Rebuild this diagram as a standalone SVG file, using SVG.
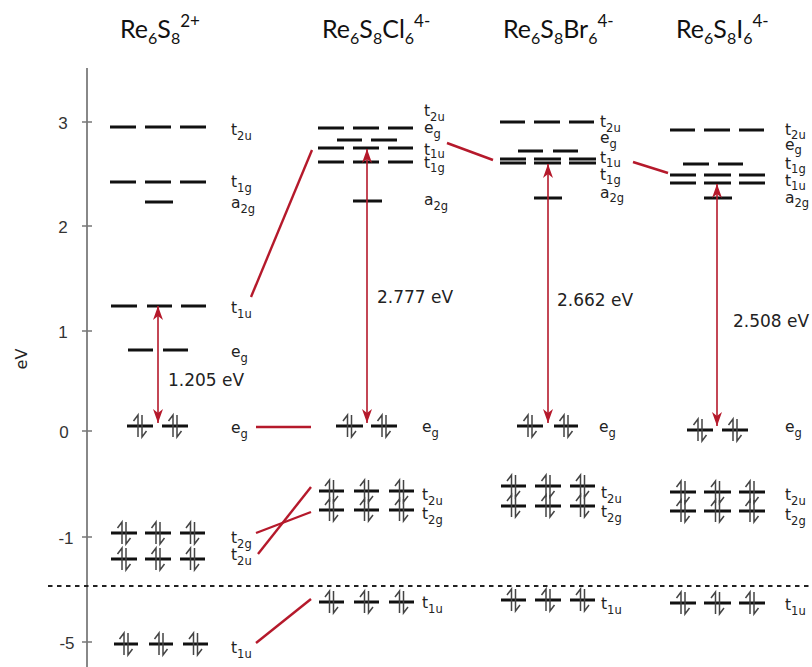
<svg xmlns="http://www.w3.org/2000/svg" xmlns:xlink="http://www.w3.org/1999/xlink" width="812" height="667" viewBox="0 0 812 667">
<style>
.lvl{stroke:#111;stroke-width:3;fill:none}
.el{stroke:#444;stroke-width:1.5;fill:none}
.lab{font-family:"DejaVu Sans",Verdana,sans-serif;font-size:15.5px;fill:#222}
.lab tspan{font-size:11.5px}
.en{font-family:"DejaVu Sans",Verdana,sans-serif;font-size:17px;fill:#222}
.ax{font-family:"Liberation Sans",Arial,sans-serif;font-size:17px;fill:#333;text-anchor:middle}
.ttl{font-family:Lato,"Open Sans",sans-serif;font-size:25px;fill:#111}
.red{stroke:#b5192b;stroke-width:2.4;fill:none}
.rarr{stroke:#b5192b;stroke-width:1.6;fill:none;marker-start:url(#ah);marker-end:url(#ah)}
</style>
<defs>
<marker id="ah" viewBox="0 0 14 10" refX="14" refY="5" markerWidth="14" markerHeight="10" orient="auto-start-reverse" markerUnits="userSpaceOnUse">
<path d="M0,0 L14,5 L0,10 L4,5 Z" fill="#b5192b"/>
</marker>
<path id="pr" class="el" d="M-2,11 V-11 L-6.5,-5 M2,-11 V11 L6.5,5"/>
</defs>

<g id="titles">
<text class="ttl" x="120" y="38">Re<tspan font-size="16" dy="6">6</tspan><tspan dy="-6">S</tspan><tspan font-size="16" dy="6">8</tspan><tspan font-size="17" dy="-17">2+</tspan></text>
<text class="ttl" x="322" y="38">Re<tspan font-size="16" dy="6">6</tspan><tspan dy="-6">S</tspan><tspan font-size="16" dy="6">8</tspan><tspan dy="-6">Cl</tspan><tspan font-size="16" dy="6">6</tspan><tspan font-size="17" dy="-17">4-</tspan></text>
<text class="ttl" x="503" y="38">Re<tspan font-size="16" dy="6">6</tspan><tspan dy="-6">S</tspan><tspan font-size="16" dy="6">8</tspan><tspan dy="-6">Br</tspan><tspan font-size="16" dy="6">6</tspan><tspan font-size="17" dy="-17">4-</tspan></text>
<text class="ttl" x="676" y="38">Re<tspan font-size="16" dy="6">6</tspan><tspan dy="-6">S</tspan><tspan font-size="16" dy="6">8</tspan><tspan dy="-6">I</tspan><tspan font-size="16" dy="6">6</tspan><tspan font-size="17" dy="-17">4-</tspan></text>
</g>

<g id="axis">
<line x1="87" y1="68" x2="87" y2="667" stroke="#888" stroke-width="2"/>
<path d="M82,122h10M82,226h10M82,331h10M82,431h10M82,537h10M82,642h10" stroke="#777" stroke-width="1.3"/>
<text class="ax" x="63" y="129">3</text>
<text class="ax" x="63" y="233">2</text>
<text class="ax" x="63" y="338">1</text>
<text class="ax" x="64" y="438">0</text>
<text class="ax" x="66" y="544">-1</text>
<text class="ax" x="67" y="649">-5</text>
<text transform="translate(27,359) rotate(-90)" font-family="DejaVu Sans,Verdana,sans-serif" font-size="16" fill="#222" text-anchor="middle">eV</text>
<line x1="48" y1="586" x2="812" y2="586" stroke="#222" stroke-width="2" stroke-dasharray="4.5,4.5"/>
</g>

<g id="col-Re6S8">
<path class="lvl" d="M110,127h26M145,127h26M180,127h26M110,182h26M145,182h26M180,182h26M145,202h28M111,306h26M147,306h25M181,306h25M128,350h25M163,350h25M127,426h26M162,426h26M111,533h26M145,533h26M180,533h25M111,559h26M145,559h26M180,559h25M114,644h24M149,644h24M183,644h25"/>
<use href="#pr" x="140" y="426"/><use href="#pr" x="175" y="426"/>
<use href="#pr" x="124" y="533"/><use href="#pr" x="158" y="533"/><use href="#pr" x="192.5" y="533"/>
<use href="#pr" x="124" y="559"/><use href="#pr" x="158" y="559"/><use href="#pr" x="192.5" y="559"/>
<use href="#pr" x="126" y="644"/><use href="#pr" x="161" y="644"/><use href="#pr" x="195.5" y="644"/>
<text class="lab" x="231" y="135">t<tspan dy="5">2u</tspan></text>
<text class="lab" x="231" y="187">t<tspan dy="5">1g</tspan></text>
<text class="lab" x="231" y="208">a<tspan dy="5">2g</tspan></text>
<text class="lab" x="231" y="313">t<tspan dy="5">1u</tspan></text>
<text class="lab" x="231" y="357">e<tspan dy="5">g</tspan></text>
<text class="lab" x="231" y="433">e<tspan dy="5">g</tspan></text>
<text class="lab" x="231" y="543">t<tspan dy="5">2g</tspan></text>
<text class="lab" x="231" y="560">t<tspan dy="5">2u</tspan></text>
<text class="lab" x="231" y="653">t<tspan dy="5">1u</tspan></text>
</g>

<g id="col-Re6S8Cl6">
<path class="lvl" d="M318,128h26M353,128h26M388,128h25M337,140h25M371,140h26M318,148h26M353,148h26M388,148h25M318,162h26M353,162h26M388,162h25M353,201h29M336,426h27M371,426h26M319,491h25M354,491h25M389,491h25M319,510h25M354,510h25M389,510h25M319,602h25M354,602h25M389,602h25"/>
<use href="#pr" x="349.5" y="426"/><use href="#pr" x="384" y="426"/>
<use href="#pr" x="331.5" y="491"/><use href="#pr" x="366.5" y="491"/><use href="#pr" x="401.5" y="491"/>
<use href="#pr" x="331.5" y="510"/><use href="#pr" x="366.5" y="510"/><use href="#pr" x="401.5" y="510"/>
<use href="#pr" x="331.5" y="602"/><use href="#pr" x="366.5" y="602"/><use href="#pr" x="401.5" y="602"/>
<text class="lab" x="424" y="116">t<tspan dy="5">2u</tspan></text>
<text class="lab" x="424" y="133">e<tspan dy="5">g</tspan></text>
<text class="lab" x="424" y="155">t<tspan dy="3">1u</tspan></text>
<text class="lab" x="424" y="168">t<tspan dy="4">1g</tspan></text>
<text class="lab" x="424" y="205">a<tspan dy="5">2g</tspan></text>
<text class="lab" x="422" y="432">e<tspan dy="5">g</tspan></text>
<text class="lab" x="422" y="500">t<tspan dy="5">2u</tspan></text>
<text class="lab" x="422" y="519">t<tspan dy="5">2g</tspan></text>
<text class="lab" x="422" y="608">t<tspan dy="5">1u</tspan></text>
</g>

<g id="col-Re6S8Br6">
<path class="lvl" d="M500,122h25M534,122h26M569,122h25M518,151h25M553,151h25M500,159h26M534,159h27M569,159h27M500,163h26M534,163h27M569,163h27M534,198h28M517,426h26M554,426h24M501,486h25M535,486h26M570,486h25M501,506h25M535,506h26M570,506h25M501,600h25M535,600h26M570,600h25"/>
<use href="#pr" x="530" y="426"/><use href="#pr" x="566" y="426"/>
<use href="#pr" x="513.5" y="486"/><use href="#pr" x="548" y="486"/><use href="#pr" x="582.5" y="486"/>
<use href="#pr" x="513.5" y="506"/><use href="#pr" x="548" y="506"/><use href="#pr" x="582.5" y="506"/>
<use href="#pr" x="513.5" y="600"/><use href="#pr" x="548" y="600"/><use href="#pr" x="582.5" y="600"/>
<text class="lab" x="600" y="127">t<tspan dy="5">2u</tspan></text>
<text class="lab" x="600" y="143">e<tspan dy="5">g</tspan></text>
<text class="lab" x="600" y="163">t<tspan dy="4">1u</tspan></text>
<text class="lab" x="600" y="180">t<tspan dy="4">1g</tspan></text>
<text class="lab" x="600" y="198">a<tspan dy="4">2g</tspan></text>
<text class="lab" x="599" y="432">e<tspan dy="5">g</tspan></text>
<text class="lab" x="601" y="498">t<tspan dy="5">2u</tspan></text>
<text class="lab" x="601" y="517">t<tspan dy="5">2g</tspan></text>
<text class="lab" x="601" y="609">t<tspan dy="5">1u</tspan></text>
</g>

<g id="col-Re6S8I6">
<path class="lvl" d="M670,130h25M704,130h26M739,130h25M683,164h26M718,164h25M670,175h26M704,175h27M739,175h26M670,183h26M704,183h27M739,183h26M704,198h28M687,430h26M722,430h26M670,492h26M704,492h27M739,492h26M670,511h26M704,511h27M739,511h26M670,603h26M704,603h27M739,603h26"/>
<use href="#pr" x="700" y="430"/><use href="#pr" x="735" y="430"/>
<use href="#pr" x="683" y="492"/><use href="#pr" x="717.5" y="492"/><use href="#pr" x="752" y="492"/>
<use href="#pr" x="683" y="511"/><use href="#pr" x="717.5" y="511"/><use href="#pr" x="752" y="511"/>
<use href="#pr" x="683" y="603"/><use href="#pr" x="717.5" y="603"/><use href="#pr" x="752" y="603"/>
<text class="lab" x="785" y="135">t<tspan dy="4">2u</tspan></text>
<text class="lab" x="785" y="150">e<tspan dy="4">g</tspan></text>
<text class="lab" x="785" y="169">t<tspan dy="4">1g</tspan></text>
<text class="lab" x="785" y="186">t<tspan dy="4">1u</tspan></text>
<text class="lab" x="785" y="203">a<tspan dy="4">2g</tspan></text>
<text class="lab" x="785" y="432">e<tspan dy="5">g</tspan></text>
<text class="lab" x="785" y="500">t<tspan dy="5">2u</tspan></text>
<text class="lab" x="785" y="520">t<tspan dy="5">2g</tspan></text>
<text class="lab" x="785" y="610">t<tspan dy="5">1u</tspan></text>
</g>

<g id="connectors">
<line class="red" x1="251" y1="297" x2="312" y2="150"/>
<line class="red" x1="447" y1="143" x2="493" y2="160"/>
<line class="red" x1="633" y1="162" x2="668" y2="173"/>
<line class="red" x1="256" y1="427" x2="311" y2="427"/>
<line class="red" x1="256" y1="533" x2="311" y2="512"/>
<line class="red" x1="258" y1="554" x2="311" y2="487"/>
<line class="red" x1="256" y1="643" x2="311" y2="599"/>
<line class="rarr" x1="158" y1="306" x2="158" y2="423"/>
<line class="rarr" x1="367" y1="149" x2="367" y2="423"/>
<line class="rarr" x1="548" y1="164" x2="548" y2="423"/>
<line class="rarr" x1="717" y1="184" x2="717" y2="426"/>
</g>

<g id="energies">
<text class="en" x="168" y="386">1.205 eV</text>
<text class="en" x="377" y="303">2.777 eV</text>
<text class="en" x="557" y="306">2.662 eV</text>
<text class="en" x="733" y="327">2.508 eV</text>
</g>
</svg>
